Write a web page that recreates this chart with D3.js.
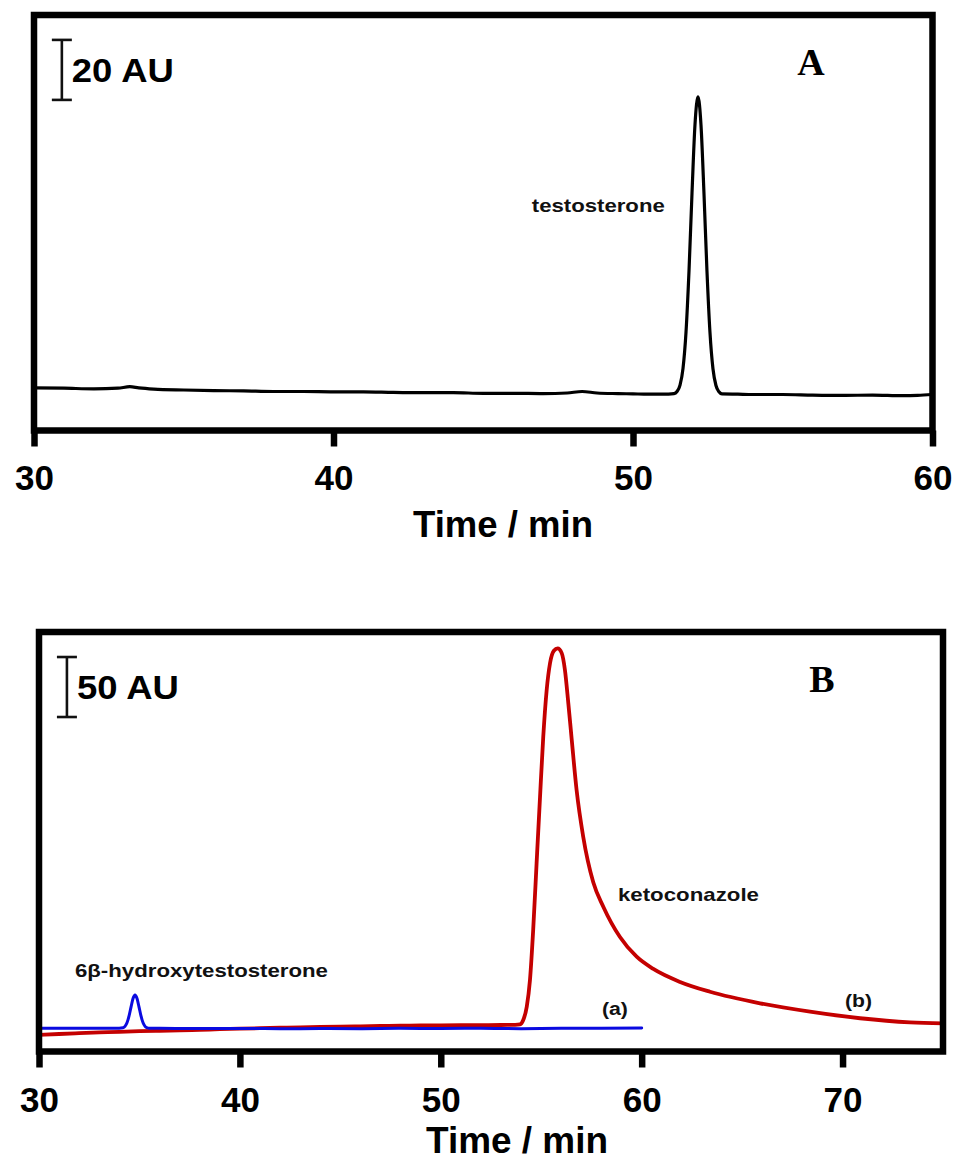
<!DOCTYPE html>
<html>
<head>
<meta charset="utf-8">
<script src="https://cdn.jsdelivr.net/npm/d3@7"></script>
<style>
  body { margin: 0; background: #fff; }
  svg { display: block; }
</style>
</head>
<body>
<svg id="chart" width="955" height="1160"></svg>
<script>
// ---- Data -------------------------------------------------------------
// Tick values for the two time axes (min)
const ticksA = [30, 40, 50, 60];
const ticksB = [30, 40, 50, 60, 70];

// Panel A: testosterone chromatogram, [time (min), signal (AU)]
const traceTestosterone = [
  [30, 14.2], [31, 14.1], [32, 13.9], [32.8, 14.1], [33.2, 14.6], [33.5, 14.2],
  [34, 13.8], [35, 13.5], [36, 13.3], [37, 13.2], [38, 13.0], [39, 13.0],
  [40, 12.9], [41, 12.9], [42, 12.7], [43, 12.6], [44, 12.6], [45, 12.4],
  [46, 12.4], [47, 12.3], [47.8, 12.5], [48.3, 13.0], [48.8, 12.5], [49.5, 12.3],
  [50, 12.2], [50.5, 12.1], [51, 12.1], [51.37, 12.3], [51.47, 13.0], [51.57, 15.1],
  [51.67, 20.7], [51.77, 32.8], [51.87, 53.2], [51.97, 79.1], [52.07, 102.0],
  [52.17, 111.2], [52.27, 101.9], [52.37, 79.0], [52.47, 53.1], [52.57, 32.7],
  [52.67, 20.6], [52.77, 15.0], [52.87, 12.9], [52.97, 12.2], [53.5, 12.1],
  [54, 12.0], [55, 12.0], [56, 11.8], [57, 11.7], [58, 11.8], [59, 11.6],
  [59.5, 11.7], [60, 12.0]
];

// Panel B, trace (a): 6β-hydroxytestosterone run
const traceA = [
  [30, 19.3], [31, 19.3], [32, 19.4], [33, 19.3], [33.8, 19.3], [34.18, 19.8],
  [34.28, 20.9], [34.38, 23.9], [34.48, 29.4], [34.58, 37.0], [34.68, 44.1],
  [34.78, 47.0], [34.88, 44.1], [34.98, 37.0], [35.08, 29.4], [35.18, 23.9],
  [35.28, 20.9], [35.38, 19.8], [35.5, 19.3], [36, 19.3], [38, 19.1], [40, 19.2],
  [42, 19.0], [44, 19.1], [46, 19.0], [48, 19.3], [50, 19.2], [52, 19.4],
  [54, 19.0], [56, 19.3], [58, 19.4], [60, 19.6]
];

// Panel B, trace (b): ketoconazole run
const traceB = [
  [30, 13.8], [31, 14.6], [32, 15.3], [33, 15.9], [34, 16.4], [35, 16.9],
  [36, 17.3], [37, 17.7], [38, 18.1], [39, 18.6], [40, 19.0], [41, 19.4],
  [42, 19.8], [43, 20.1], [44, 20.5], [45, 20.8], [46, 21.0], [47, 21.3],
  [48, 21.5], [49, 21.7], [50, 21.8], [51, 21.9], [52, 22.0], [53, 22.1],
  [53.7, 22.2], [53.94, 22.6], [54.1, 26], [54.28, 37.3], [54.44, 59.6],
  [54.6, 101.3], [54.77, 157], [54.94, 212], [55.1, 262], [55.27, 301],
  [55.44, 323.8], [55.63, 334], [55.82, 336], [56.02, 332], [56.18, 318],
  [56.35, 290], [56.52, 259.6], [56.76, 218], [57.09, 179], [57.59, 141],
  [58.09, 120.7], [58.92, 95.4], [59.75, 79], [60.58, 68.8], [61.91, 58],
  [63.4, 49.8], [65.89, 40.2], [68.38, 33.2], [70.87, 27.7], [73.36, 24.3],
  [75, 23.5]
];

// Scale-bar spans (AU)
const scaleBarA = 20;
const scaleBarB = 50;

// ---- Drawing ----------------------------------------------------------
const svg = d3.select("#chart");
svg.append("rect").attr("width", 955).attr("height", 1160).attr("fill", "#fff");

const SANS = "'Liberation Sans', Arial, sans-serif";
const SERIF = "'Liberation Serif', 'Times New Roman', serif";
const FRAME_W = 6.5;

function panel(cfg) {
  const x = d3.scaleLinear().domain(cfg.xDomain).range([cfg.left, cfg.right]);
  const y = d3.scaleLinear().domain(cfg.yDomain).range([cfg.bottom, cfg.top]);
  const g = svg.append("g");

  const clipId = "clip-" + cfg.id;
  g.append("clipPath").attr("id", clipId)
    .append("rect")
    .attr("x", cfg.left).attr("y", cfg.top)
    .attr("width", cfg.right - cfg.left).attr("height", cfg.bottom - cfg.top);

  const line = d3.line()
    .x(d => x(d[0])).y(d => y(d[1]))
    .curve(d3.curveMonotoneX);

  const plot = g.append("g").attr("clip-path", `url(#${clipId})`);
  cfg.traces.forEach(t => {
    plot.append("path")
      .datum(t.data)
      .attr("d", line)
      .attr("fill", "none")
      .attr("stroke", t.color)
      .attr("stroke-width", t.width)
      .attr("stroke-linejoin", "round")
      .attr("stroke-linecap", "round");
  });

  // frame
  g.append("rect")
    .attr("x", cfg.left).attr("y", cfg.top)
    .attr("width", cfg.right - cfg.left).attr("height", cfg.bottom - cfg.top)
    .attr("fill", "none").attr("stroke", "#000")
    .attr("stroke-width", FRAME_W);

  // bottom axis
  const ax = g.append("g")
    .attr("transform", `translate(0,${cfg.bottom})`)
    .call(d3.axisBottom(x)
      .tickValues(cfg.ticks)
      .tickSize(16)
      .tickPadding(cfg.tickPad)
      .tickFormat(d3.format("d")));
  ax.select(".domain").remove();
  ax.selectAll(".tick line").attr("stroke", "#000").attr("stroke-width", FRAME_W);
  ax.selectAll(".tick text")
    .attr("fill", "#000")
    .style("font-family", SANS)
    .style("font-weight", "bold")
    .style("font-size", "35px");

  // axis title
  g.append("text")
    .attr("x", cfg.titleX).attr("y", cfg.titleY)
    .attr("text-anchor", "middle")
    .attr("textLength", cfg.titleLen).attr("lengthAdjust", "spacingAndGlyphs")
    .style("font-family", SANS).style("font-weight", "bold").style("font-size", "36px")
    .attr("fill", "#000")
    .text("Time / min");

  // vertical scale bar
  const sb = cfg.scaleBar;
  const bx = x(sb.t), y0 = y(sb.base), y1 = y(sb.base + sb.span);
  const bar = g.append("g").attr("stroke", "#111").attr("stroke-width", 2.6);
  bar.append("line").attr("x1", bx).attr("x2", bx).attr("y1", y0).attr("y2", y1);
  bar.append("line").attr("x1", bx - 10).attr("x2", bx + 10).attr("y1", y0).attr("y2", y0);
  bar.append("line").attr("x1", bx - 10).attr("x2", bx + 10).attr("y1", y1).attr("y2", y1);
  g.append("text")
    .attr("x", bx + 10).attr("y", sb.textY)
    .style("font-family", SANS).style("font-weight", "bold").style("font-size", "34px")
    .attr("textLength", 102).attr("lengthAdjust", "spacingAndGlyphs")
    .attr("fill", "#000")
    .text(`${sb.span} AU`);

  // panel letter
  g.append("text")
    .attr("x", cfg.letterX).attr("y", cfg.letterY)
    .attr("text-anchor", "middle")
    .style("font-family", SERIF).style("font-weight", "bold").style("font-size", "38px")
    .attr("fill", "#000")
    .text(cfg.letter);

  // peak labels
  cfg.labels.forEach(l => {
    g.append("text")
      .attr("x", x(l.t)).attr("y", y(l.v))
      .attr("textLength", l.len).attr("lengthAdjust", "spacingAndGlyphs")
      .style("font-family", SANS).style("font-weight", "bold").style("font-size", l.size + "px")
      .attr("fill", "#111")
      .text(l.text);
  });
}

panel({
  id: "A",
  left: 34, right: 932.5, top: 15, bottom: 430.5,
  xDomain: [30, 60], yDomain: [0, 138.5],
  ticks: ticksA, tickPad: 18.5,
  titleX: 503, titleY: 537, titleLen: 180,
  traces: [{ data: traceTestosterone, color: "#000", width: 3.2 }],
  scaleBar: { t: 30.93, base: 110.2, span: scaleBarA, textY: 82 },
  letter: "A", letterX: 811, letterY: 75,
  labels: [{ text: "testosterone", t: 46.62, v: 72.9, len: 133, size: 19 }]
});

panel({
  id: "B",
  left: 39, right: 943, top: 632, bottom: 1051.5,
  xDomain: [30, 75], yDomain: [0, 349.6],
  ticks: ticksB, tickPad: 19.5,
  titleX: 517, titleY: 1153, titleLen: 182,
  traces: [
    { data: traceB, color: "#c40000", width: 3.8 },
    { data: traceA, color: "#0a0ae0", width: 3.0 }
  ],
  scaleBar: { t: 31.39, base: 278.75, span: scaleBarB, textY: 699 },
  letter: "B", letterX: 822, letterY: 692,
  labels: [
    { text: "6β-hydroxytestosterone", t: 31.79, v: 62.1, len: 253, size: 19 },
    { text: "ketoconazole", t: 58.82, v: 125.4, len: 141, size: 19 },
    { text: "(a)", t: 58.02, v: 30.4, len: 26, size: 18 },
    { text: "(b)", t: 70.12, v: 36.7, len: 27, size: 18 }
  ]
});
</script>
</body>
</html>
